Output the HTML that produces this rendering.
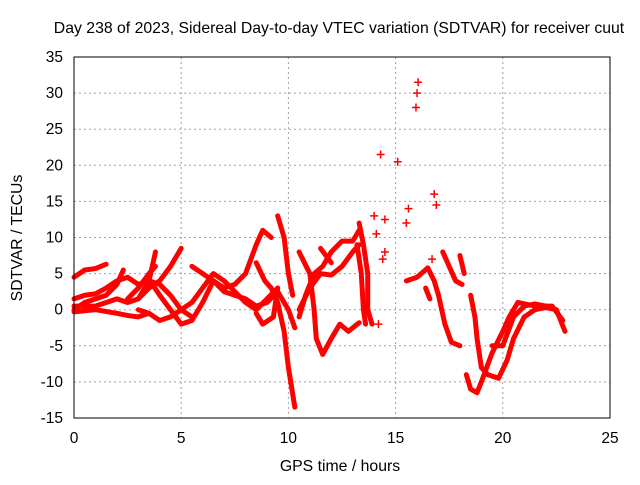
<!DOCTYPE html>
<html><head><meta charset="utf-8"><style>
body{margin:0;background:#fff}
svg text{font-family:"Liberation Sans",sans-serif;fill:#000}
</style></head><body>
<svg width="640" height="480" xmlns="http://www.w3.org/2000/svg">
<rect width="640" height="480" fill="#fff"/>
<text x="339" y="33" text-anchor="middle" font-size="15.8">Day 238 of 2023, Sidereal Day-to-day VTEC variation (SDTVAR) for receiver cuut</text>
<g id="grid"></g>
<g id="ticks"></g>
<g id="marks"></g>
<rect x="74" y="57" width="536" height="361" fill="none" stroke="#000"/>
<text x="340" y="471" text-anchor="middle" font-size="15.8">GPS time / hours</text>
<text transform="translate(22,238) rotate(-90)" text-anchor="middle" font-size="15.8">SDTVAR / TECUs</text>
</svg>
<script>
const xTicks=[0,5,10,15,20,25];
const yTicks=[-15,-10,-5,0,5,10,15,20,25,30,35];
const tracks=[
[[0,4.5],[0.5,5.5],[1,5.7],[1.5,6.3]],
[[0,1.5],[0.5,2],[1,2.2],[1.5,3],[2,4],[2.5,4.5],[3,3.5],[3.5,4],[4,3.5],[4.5,2],[5,0],[5.5,-1]],
[[0,0],[0.5,1],[1,1.5],[1.5,2],[2,3.5],[2.3,5.5]],
[[0,0.5],[1,0.5],[2,1.5],[2.5,1],[3,1.5],[3.5,4],[3.8,8]],
[[0,-0.3],[1,0],[2,-0.5],[2.5,-0.8],[3,-1],[3.5,-0.5]],
[[2.5,1.5],[3,3],[3.5,5],[3.8,6]],
[[3,1.5],[3.5,3],[4,4],[4.5,6],[5,8.5]],
[[3,0],[3.5,-0.5],[4,-1.5],[4.5,-1],[5,0],[5.5,1],[6,3],[6.5,5],[7,4],[7.5,2.5],[8,1],[8.5,0],[9,1.5],[9.5,3]],
[[3.5,4.2],[4,2],[4.5,0],[5,-2],[5.5,-1.5],[6,1],[6.5,4],[7,3],[7.5,3.5],[8,5],[8.5,9],[8.8,11],[9.2,10]],
[[5.5,6],[6,5],[6.5,4],[7,2.5],[7.5,2],[8,1.5],[8.5,0.5],[9,1],[9.5,2.5],[10,0],[10.3,-2.5]],
[[8.5,-0.5],[8.8,-2],[9.3,-1],[9.5,3]],
[[8.5,6.5],[8.9,4],[9.2,3],[9.5,1],[9.8,-3],[10,-8],[10.3,-13.5]],
[[9.5,13],[9.8,10],[10,5],[10.2,2]],
[[10.5,8],[11,5],[11.2,0],[11.3,-4],[11.6,-6.2],[12,-4],[12.4,-2],[12.8,-3],[13.3,-1.8]],
[[10.5,-1],[10.8,2],[11.2,5],[11.6,6],[12,8],[12.5,9.5],[13,9.5],[13.3,11]],
[[10.5,0],[11,3],[11.5,5],[12,4.8],[12.5,6],[13,8],[13.3,9]],
[[11.5,8.5],[12,6.5]],
[[13.2,9],[13.4,5],[13.5,0],[13.6,-2]],
[[13.3,12],[13.5,9],[13.7,5],[13.7,0],[13.9,-2]],
[[15.5,4],[16,4.5],[16.5,5.8],[16.8,4],[17,2],[17.3,-2],[17.6,-4.5],[18,-5]],
[[16.4,3],[16.6,1.5]],
[[17.2,8],[17.5,6],[17.8,4],[18.1,3.5]],
[[18,7.5],[18.2,5]],
[[18.5,2],[18.7,-1],[18.8,-4],[19,-8],[19.3,-9],[19.8,-9.5],[20.2,-7],[20.5,-4],[21,-1],[21.5,0],[22,0.3],[22.5,0],[22.9,-3]],
[[18.3,-9],[18.5,-11],[18.8,-11.5],[19,-10],[19.5,-6],[20,-3],[20.3,-1],[20.7,1],[21.5,0.5],[22.3,0.5],[22.8,-1.5]],
[[19.5,-5],[20,-5],[20.5,-1],[21,0.5],[21.5,0.8],[22,0.5]]
];
const scatterX=[14.3,15.1,15.6,15.5,15.95,16,16.05,16.8,16.9,14.0,14.1,14.5,14.5,14.4,14.2,16.7];
const scatterY=[21.5,20.5,14,12,28,30,31.5,16,14.5,13,10.5,12.5,8,7,-2,7];
const X=v=>74+(v-0)*536/25;
const Y=v=>418-(v+15)*361/50;
const NS="http://www.w3.org/2000/svg";
function mk(t,a,p){const e=document.createElementNS(NS,t);for(const k in a)e.setAttribute(k,a[k]);p.appendChild(e);return e;}
const g=document.getElementById('grid'),tk=document.getElementById('ticks'),m=document.getElementById('marks');
xTicks.forEach(v=>{
 if(v>0&&v<25){const l=mk('line',{x1:X(v),x2:X(v),y1:57,y2:418,stroke:'#a0a0a0','stroke-dasharray':'2,3'},g);
 
 }
 const t=mk('text',{x:X(v),y:443,'text-anchor':'middle','font-size':'15.5'},tk);t.textContent=v;
 
 
});
yTicks.forEach(v=>{
 if(v>-15&&v<35){const l=mk('line',{x1:74,x2:610,y1:Y(v),y2:Y(v),stroke:'#a0a0a0','stroke-dasharray':'2,3'},g);
 
 }
 const t=mk('text',{x:63,y:Y(v)+5,'text-anchor':'end','font-size':'15.5'},tk);t.textContent=v;
 
 
});
tracks.forEach(tr=>{
 const p=mk('polyline',{points:tr.map(q=>X(q[0])+','+Y(q[1])).join(' '),fill:'none',stroke:'#f00','stroke-width':5,'stroke-linejoin':'round','stroke-linecap':'round'},m);
 
 
});
scatterX.forEach((x,i)=>{
 const cx=X(x),cy=Y(scatterY[i]);
 const p=mk('path',{d:`M${cx-4},${cy}H${cx+4}M${cx},${cy-4}V${cy+4}`,stroke:'#f00','stroke-width':1.5},m);
 
 
});
</script>
</body></html>
